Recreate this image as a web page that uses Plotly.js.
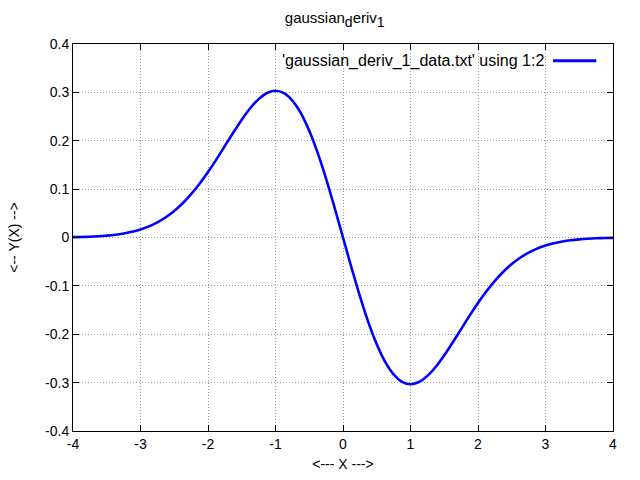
<!DOCTYPE html>
<html><head><meta charset="utf-8">
<script src="https://cdn.plot.ly/plotly-3.0.1.min.js"></script>
<style>body{margin:0;}#c{width:640px;height:480px;}</style>
</head><body><div id="c"></div>
<script>
const xVals = [-4,-3.875,-3.75,-3.625,-3.5,-3.375,-3.25,-3.125,-3,-2.875,-2.75,-2.625,-2.5,-2.375,-2.25,-2.125,-2,-1.875,-1.75,-1.625,-1.5,-1.375,-1.25,-1.125,-1,-0.875,-0.75,-0.625,-0.5,-0.375,-0.25,-0.125,
  0,0.125,0.25,0.375,0.5,0.625,0.75,0.875,1,1.125,1.25,1.375,1.5,1.625,1.75,1.875,2,2.125,2.25,2.375,2.5,2.625,2.75,2.875,3,3.125,3.25,3.375,3.5,3.625,3.75,3.875,4];
const yVals = [0.0007,0.0011,0.0017,0.0025,0.0038,0.0057,0.0083,0.0118,0.0167,0.0231,0.0313,0.0419,0.0549,0.0708,0.0895,0.1111,0.1353,0.1616,0.1893,0.2170,0.2435,0.2672,0.2861,0.2987,0.3033,0.2984,0.2831,0.2571,0.2206,0.1748,0.1212,0.0620,
  0,-0.0620,-0.1212,-0.1748,-0.2206,-0.2571,-0.2831,-0.2984,-0.3033,-0.2987,-0.2861,-0.2672,-0.2435,-0.2170,-0.1893,-0.1616,-0.1353,-0.1111,-0.0895,-0.0708,-0.0549,-0.0419,-0.0313,-0.0231,-0.0167,-0.0118,-0.0083,-0.0057,-0.0038,-0.0025,-0.0017,-0.0011,-0.0007];
const xTicks = [-4,-3,-2,-1,0,1,2,3,4];
const yTicks = [-0.4,-0.3,-0.2,-0.1,0,0.1,0.2,0.3,0.4];
const yTickText = ['-0.4','-0.3','-0.2','-0.1','0','0.1','0.2','0.3','0.4'];
const seriesName = "'gaussian_deriv_1_data.txt' using 1:2";

const font = {family:'Liberation Sans, Arial, sans-serif', size:14, color:'#000'};
const axisCommon = {
  showline:true, linecolor:'#000', linewidth:1, mirror:'ticks',
  ticks:'inside', ticklen:6, tickcolor:'#000',
  showgrid:true, gridcolor:'#a0a0a0', griddash:'1px,2px', gridwidth:1,
  zeroline:false, tickfont:font
};
Plotly.newPlot('c', [{
  x:xVals, y:yVals, mode:'lines', line:{color:'#0000ff', width:2.6, shape:'spline', smoothing:0.6}, showlegend:false, name:seriesName
}], {
  width:640, height:480,
  margin:{l:73, r:27, t:44, b:49},
  paper_bgcolor:'#fff', plot_bgcolor:'#fff',
  font:font,
  title:{text:'gaussian<sub><span style="font-size:14px">d</span></sub>eriv<sub><span style="font-size:14px">1</span></sub>', xref:'container', x:0.523, xanchor:'center', y:0.962, yanchor:'middle', font:{family:font.family,size:15,color:'#000'}},
  xaxis:Object.assign({}, axisCommon, {range:[-4,4], tickvals:xTicks, ticktext:xTicks.map(String),
    title:{text:'<--- X --->', font:font, standoff:8}}),
  yaxis:Object.assign({}, axisCommon, {range:[-0.4,0.4], tickvals:yTicks, ticktext:yTickText,
    title:{text:'<-- Y(X) -->', font:font, standoff:22}}),
  annotations:[{xref:'paper', yref:'paper', x:0.875, y:0.957, xanchor:'right', yanchor:'middle',
    text:seriesName, showarrow:false, font:{family:font.family, size:16, color:'#000'}}],
  shapes:[{type:'line', xref:'paper', yref:'paper', x0:0.889, x1:0.969, y0:0.957, y1:0.957,
    line:{color:'#0000ff', width:3}}]
}, {displayModeBar:false, staticPlot:true});
</script></body></html>
